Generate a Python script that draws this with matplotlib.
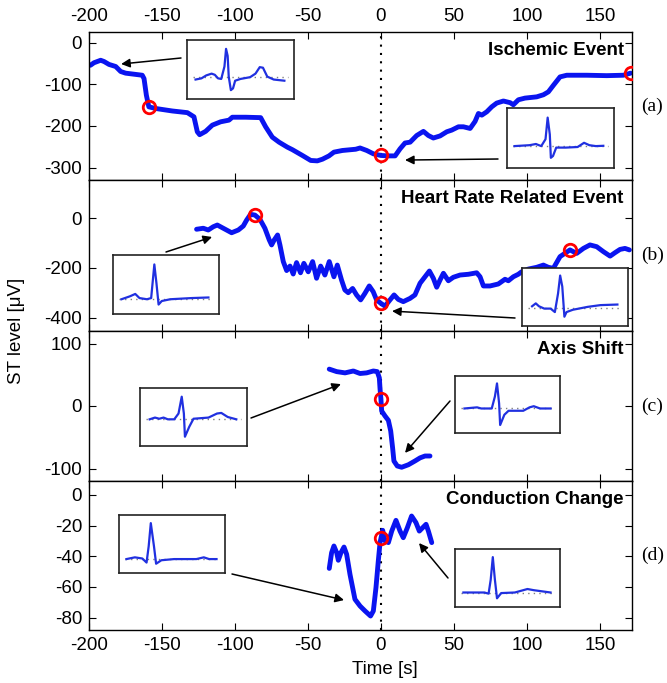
import matplotlib
matplotlib.use("Agg")
import matplotlib.pyplot as plt

plt.rcParams["font.family"] = ["Liberation Sans", "DejaVu Sans"]
plt.rcParams["axes.unicode_minus"] = False

# ST-Verlauf je Ereignis (Zeit [s], ST-Level [uV])
a_t = [-199, -196.6, -192, -189.7, -186.3, -181.7, -178.3, -174.9, -163.5, -162.3, -160.7,
       -159, -154.3, -142.9, -132.6, -128.1, -125.8, -124.2, -120.1, -115.5, -109.8, -104.1,
       -101.8, -92.7, -82.4, -79, -74.4, -69.8, -64.1, -60.7, -53.8, -48.1, -43.6, -40.1,
       -35.6, -32.2, -26.4, -17.3, -14.3, -9.7, -5.2, 0, 5.1, 9.7, 13.1, 16.5, 20, 24.5, 29.1,
       32.5, 35.9, 40.5, 45.1, 48.5, 53.1, 56.5, 61.1, 64.5, 66.8, 69.1, 72.5, 75.9, 79.3,
       83.9, 88.5, 90.7, 94.2, 98.7, 106.7, 111.3, 114.7, 118.2, 122.7, 127.3, 141, 154.7,
       166.1, 171]
a_st = [-54, -48, -42, -45, -52, -57, -69, -73, -78, -86, -126,
        -154, -158, -164, -168, -178, -214, -221, -213, -198, -190, -186,
        -179, -179, -180, -202, -227, -239, -251, -257, -271, -283, -284, -280,
        -272, -263, -259, -256, -253, -259, -267, -271, -272, -272, -255, -241, -239, -223, -213,
        -223, -229, -224, -214, -210, -202, -202, -206, -189, -170, -174, -166, -154, -145,
        -140, -144, -149, -137, -133, -130, -125, -118, -102, -82, -78, -78, -79,
        -78, -73]

b_t = [-126.3, -121.7, -118.3, -114.9, -112.1, -108, -102.3, -97.7, -94.3, -92, -89.3, -86.3,
       -82.9, -79.5, -76.5, -74.9, -73.1, -70.8, -69.2, -66.9, -64.6, -62.3, -60.1, -57.8,
       -55.1, -52.8, -49.8, -46.8, -44.1, -41.3, -38.4, -35.4, -32.2, -29.9, -27, -24.7,
       -22.4, -19.4, -16.7, -13.9, -11, -8, -5.3, -3, 0, 2.8, 6.2, 9, 11.9, 15.3, 19.9, 23.3,
       26.8, 30.2, 33.2, 35.9, 38.2, 40.5, 42.8, 46.2, 49.6, 54.2, 59.9, 65.6, 67.9, 70.2,
       74.7, 80.4, 85, 87.3, 90.7, 94.1, 96.4, 101, 106.7, 111.3, 114.7, 118.1, 122.7, 129.5,
       134.1, 138.7, 143.2, 147.8, 152.4, 157, 160.4, 163.8, 167.2, 170.2]
b_st = [-45, -41, -48, -35, -28, -41, -59, -48, -32, -8, 15, 12,
        -5, -41, -88, -108, -88, -68, -108, -175, -211, -193, -225, -179,
        -220, -182, -216, -175, -242, -193, -229, -175, -236, -189, -249, -289,
        -300, -283, -309, -329, -303, -273, -296, -329, -343, -354, -329, -309, -327, -336, -323, -309,
        -262, -236, -213, -242, -278, -249, -222, -252, -238, -229, -226, -220, -236, -273,
        -273, -265, -246, -252, -236, -226, -216, -205, -198, -189, -198, -202, -155, -128,
        -142, -122, -108, -115, -135, -153, -139, -126, -122, -128]

c_t = [-35.4, -30.3, -24.6, -18.9, -14.3, -9.8, -5.2, -2.5, -1.1, -0.6, 0, 0.5, 2.8, 5.1,
       6.7, 8, 8.9, 11.2, 14.2, 18.8, 23.3, 26.8, 30.2, 33.6]
c_st = [59, 55, 53, 56, 52, 53, 56, 55, 45, 27, 11, -8, -16, -23,
        -40, -67, -88, -96, -98, -94, -88, -83, -80, -80]

d_t = [-35.4, -33.8, -32.2, -30.3, -29.2, -27.4, -25.3, -23.5, -21.2, -17.8, -14.3, -10.9,
       -7.1, -5.2, -3.4, -1.8, -0.6, 0, 1.2, 2.8, 5.1, 7.4, 10.3, 13.1, 15.3, 18.1, 21, 24,
       26.3, 30.9, 32.5, 34.8]
d_st = [-47.9, -37.7, -33.3, -37.7, -42.6, -37.7, -34, -38.7, -51.8, -68, -72.4, -75.6,
        -78.9, -75.6, -60.4, -43, -31, -28.3, -23.1, -30, -31.1, -23.6, -16.6, -23.6, -27.9,
        -21.4, -13.8, -18.1, -23.6, -19.2, -23.6, -31.1]

# markierte Zeitpunkte (rote Kreise)
a_mark_t = [-159, 0, 171]
a_mark_st = [-154, -271, -73]
b_mark_t = [-86.3, 0, 129.5]
b_mark_st = [12, -343, -128]
c_mark_t = [0]
c_mark_st = [11]
d_mark_t = [0]
d_mark_st = [-28.3]

titles = ["Ischemic Event", "Heart Rate Related Event", "Axis Shift", "Conduction Change"]
panel_tags = ["(a)", "(b)", "(c)", "(d)"]
x_ticks = [-200, -150, -100, -50, 0, 50, 100, 150]
y_ticks = [[0, -100, -200, -300], [0, -200, -400], [100, 0, -100], [0, -20, -40, -60, -80]]
y_lims = [(-330, 26), (-454, 153), (-120, 120), (-88, 9)]

# ECG-Schlaege in den Einblendungen (normiert 0..1)
ecg_a1_x = [0.08, 0.135, 0.18, 0.23, 0.26, 0.29, 0.32, 0.35, 0.365, 0.38, 0.39, 0.41, 0.43,
            0.45, 0.50, 0.59, 0.64, 0.68, 0.71, 0.75, 0.81, 0.91]
ecg_a1_y = [0.33, 0.35, 0.40, 0.43, 0.41, 0.35, 0.34, 0.55, 0.85, 0.73, 0.38, 0.15, 0.18,
            0.31, 0.34, 0.37, 0.43, 0.54, 0.53, 0.38, 0.33, 0.31]
ecg_a2_x = [0.07, 0.21, 0.27, 0.32, 0.36, 0.38, 0.40, 0.41, 0.43, 0.46, 0.55, 0.66, 0.72,
            0.77, 0.83, 0.90]
ecg_a2_y = [0.365, 0.38, 0.40, 0.365, 0.48, 0.84, 0.56, 0.17, 0.20, 0.34, 0.34, 0.35, 0.42,
            0.38, 0.365, 0.37]
ecg_b1_x = [0.08, 0.16, 0.21, 0.25, 0.32, 0.36, 0.39, 0.41, 0.43, 0.46, 0.54, 0.74, 0.90]
ecg_b1_y = [0.25, 0.30, 0.34, 0.27, 0.25, 0.27, 0.84, 0.52, 0.16, 0.22, 0.25, 0.27, 0.28]
ecg_b2_x = [0.095, 0.13, 0.16, 0.21, 0.27, 0.31, 0.34, 0.36, 0.38, 0.40, 0.42, 0.48, 0.62,
            0.74, 0.90]
ecg_b2_y = [0.34, 0.39, 0.34, 0.30, 0.30, 0.24, 0.56, 0.87, 0.68, 0.16, 0.24, 0.28, 0.33,
            0.36, 0.37]
ecg_c1_x = [0.09, 0.14, 0.18, 0.22, 0.26, 0.32, 0.36, 0.39, 0.41, 0.42, 0.46, 0.50, 0.64,
            0.72, 0.76, 0.82, 0.90]
ecg_c1_y = [0.46, 0.49, 0.47, 0.49, 0.46, 0.46, 0.56, 0.85, 0.56, 0.16, 0.33, 0.47, 0.49,
            0.56, 0.57, 0.50, 0.46]
ecg_c2_x = [0.09, 0.21, 0.25, 0.35, 0.38, 0.40, 0.42, 0.43, 0.47, 0.51, 0.65, 0.71, 0.75,
            0.81, 0.91]
ecg_c2_y = [0.43, 0.45, 0.43, 0.43, 0.64, 0.87, 0.52, 0.14, 0.32, 0.39, 0.39, 0.45, 0.47,
            0.43, 0.43]
ecg_d1_x = [0.07, 0.15, 0.22, 0.26, 0.28, 0.30, 0.33, 0.35, 0.40, 0.52, 0.73, 0.80, 0.85, 0.92]
ecg_d1_y = [0.24, 0.27, 0.25, 0.18, 0.46, 0.86, 0.46, 0.16, 0.22, 0.24, 0.24, 0.27, 0.24, 0.24]
ecg_d2_x = [0.08, 0.28, 0.32, 0.34, 0.36, 0.38, 0.40, 0.44, 0.57, 0.69, 0.75, 0.91]
ecg_d2_y = [0.25, 0.25, 0.23, 0.47, 0.86, 0.47, 0.15, 0.24, 0.25, 0.31, 0.29, 0.25]
ecg_base = [0.365, 0.365, 0.25, 0.31, 0.46, 0.43, 0.24, 0.25]

W, H = 667, 683
fig = plt.figure(figsize=(W / 100, H / 100), dpi=100)

# Achsen-Lage in Pixeln (oben, unten)
panel_px = [(32, 180), (180, 331), (331, 481), (481, 630)]
left_px, right_px = 89, 632

series = [(a_t, a_st, a_mark_t, a_mark_st), (b_t, b_st, b_mark_t, b_mark_st),
          (c_t, c_st, c_mark_t, c_mark_st), (d_t, d_st, d_mark_t, d_mark_st)]

axes = []
for i, (top, bot) in enumerate(panel_px):
    ax = fig.add_axes([left_px / W, 1 - bot / H, (right_px - left_px) / W, (bot - top) / H])
    t, st, mt, mst = series[i]
    ax.axvline(0, color="black", ls=(0, (1, 3)), lw=1.5, zorder=1)
    ax.plot(t, st, color="#0a14f0", lw=3.5, solid_capstyle="round", zorder=2)
    ax.plot(mt, mst, "o", ms=9, mfc="none", mec="red", mew=2, zorder=3)
    ax.set_xlim(-200, 172)
    ax.set_ylim(*y_lims[i])
    ax.set_xticks(x_ticks)
    ax.set_yticks(y_ticks[i])
    ax.tick_params(direction="in", top=True, right=True, length=5, labelsize=13.5,
                   labelbottom=(i == 3), labeltop=(i == 0), pad=5)
    for s in ax.spines.values():
        s.set_linewidth(1.0)
    ax.text(0.985, 0.875, titles[i], transform=ax.transAxes, ha="right", va="center",
            fontsize=13.5, fontweight="bold")
    fig.text(641 / W, 1 - (top + bot) / 2 / H, panel_tags[i], ha="left", va="center",
             fontsize=14, family="Liberation Serif")
    axes.append(ax)

fig.text(17 / W, 1 - 331 / H, "ST level [\u03bcV]", rotation=90, ha="center", va="center",
         fontsize=13.5)
fig.text(385 / W, 1 - 670 / H, "Time [s]", ha="center", va="center", fontsize=13.5)

# Einblendungen: Lage in Pixeln (links, oben, rechts, unten)
inset_px = [(187, 40, 294, 99), (507, 108, 614, 168), (113, 255, 219, 314),
            (522, 268, 628, 326), (140, 388, 247, 446), (455, 376, 560, 433),
            (119, 515, 225, 573), (455, 549, 560, 607)]
ecg_x = [ecg_a1_x, ecg_a2_x, ecg_b1_x, ecg_b2_x, ecg_c1_x, ecg_c2_x, ecg_d1_x, ecg_d2_x]
ecg_y = [ecg_a1_y, ecg_a2_y, ecg_b1_y, ecg_b2_y, ecg_c1_y, ecg_c2_y, ecg_d1_y, ecg_d2_y]

# Pfeile: Spitze in Daten, Ende in Pixeln
arrow_head = [(-178, -51), (16.5, -282), (-115.7, -76), (7.6, -374),
              (-27.4, 35), (16.5, -75), (-25.3, -68.5), (26.1, -31.4)]
arrow_tail_px = [(181, 58), (498, 159), (166, 252), (515, 318),
                 (251, 418), (450, 401), (232, 574), (448, 578)]

for k in range(8):
    ax = axes[k // 2]
    hx, hy = arrow_head[k]
    tx, ty = arrow_tail_px[k]
    ax.annotate("", xy=(hx, hy), xycoords="data", xytext=(tx / W, 1 - ty / H),
                textcoords="figure fraction",
                arrowprops=dict(arrowstyle="-|>", color="black", lw=1.1,
                                mutation_scale=13, shrinkA=0, shrinkB=0))

for k, (l, t, r, b) in enumerate(inset_px):
    ins = fig.add_axes([l / W, 1 - b / H, (r - l) / W, (b - t) / H])
    ins.set_facecolor("white")
    ins.plot([0.06, 0.94], [ecg_base[k]] * 2, color="gray", ls=(0, (1, 3)), lw=1)
    ins.plot(ecg_x[k], ecg_y[k], color="#2030e0", lw=1.6)
    ins.set_xlim(0, 1)
    ins.set_ylim(0, 1)
    ins.set_xticks([])
    ins.set_yticks([])
    for s in ins.spines.values():
        s.set_linewidth(1.2)
        s.set_color("#222222")

fig.savefig("out.png", dpi=100)
